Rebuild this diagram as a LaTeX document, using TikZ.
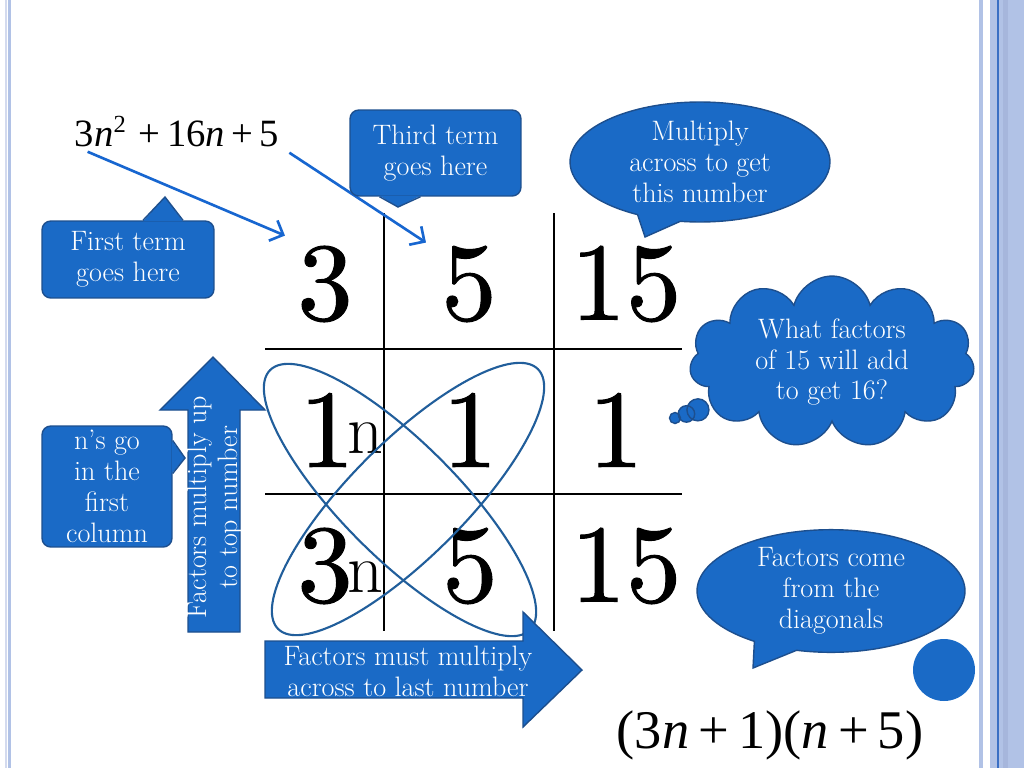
\documentclass[tikz,border=0pt]{standalone}
\usepackage{fontspec}
\newfontfamily\eqfont{Liberation Serif}
\newfontfamily\gridfont{lmroman10-regular.otf}[FakeBold=0.9]
\usetikzlibrary{arrows.meta, shapes.callouts, shapes.symbols, shapes.geometric}
\definecolor{calloutblue}{HTML}{1A6AC6}
\definecolor{edgeblue}{HTML}{1D4F8E}
\definecolor{arrowblue}{HTML}{1766D0}
\definecolor{loopblue}{HTML}{215E9B}
\definecolor{bandlav}{HTML}{B1C2E6}
\definecolor{darklav}{HTML}{A6B6DC}
\definecolor{palelav}{HTML}{D3DAEE}
\definecolor{lineblue}{HTML}{3A6FC4}

\begin{document}
\begin{tikzpicture}[x=0.02cm, y=-0.02cm,
  >={Straight Barb[length=2.2mm, width=4.4mm]},
  note/.style={
    fill=calloutblue, draw=edgeblue, line width=0.8pt, text=white,
    font=\fontsize{16}{17.6}\selectfont, align=center, inner sep=0pt
  },
  box/.style={note, rectangle, rounded corners=5pt},
  tipfill/.style={fill=calloutblue},
  tipedge/.style={draw=edgeblue, line width=0.8pt, line join=miter},
  bubble/.style={note, ellipse callout, callout pointer arc=20},
  digit/.style={font=\gridfont\fontsize{63}{63}\selectfont, inner sep=0pt},
  power/.style={font=\fontsize{40}{40}\selectfont, inner sep=0pt},
  gridline/.style={line width=1.6pt},
  loop/.style={
    draw=loopblue, line width=1.2pt, ellipse, inner sep=0pt,
    minimum width=7.35cm, minimum height=2.3cm
  },
  pointer/.style={->, arrowblue, line width=1.5pt},
  blockarrow/.style={fill=calloutblue, draw=edgeblue, line width=0.8pt},
  arrowtext/.style={text=white, font=\fontsize{16}{17.6}\selectfont, align=center, inner sep=0pt},
]

% Page and side bands
\useasboundingbox (0,0) rectangle (1024,768);
\fill[white] (0,0) rectangle (1024,768);
\fill[palelav] (4.5,0) rectangle (6.5,768);
\fill[bandlav] (8,0) rectangle (11,768);
\fill[bandlav] (979,0) rectangle (983,768);
\fill[bandlav] (990,0) rectangle (1024,768);
\fill[darklav] (1003,0) rectangle (1008,768);
\draw[lineblue, line width=0.6pt] (998,0) -- (998,768);

% Quadratic
\node[anchor=base, inner sep=0pt, font=\eqfont\fontsize{22}{22}\selectfont]
  (quad) at (177,146) {3\textit{n}{\fontsize{14}{14}\selectfont\raisebox{0.55em}{2}}\,\,+\,16\textit{n}\,+\,5};

% Grid
\draw[gridline] (384,213) -- (384,631);
\draw[gridline] (554,213) -- (554,631);
\draw[gridline] (265,349) -- (682,349);
\draw[gridline] (265,494) -- (682,494);

\node[digit] (c11) at (325,284) {3};
\node[digit] (c12) at (469,284) {5};
\node[digit] (c13) at (626,284) {15};
\node[digit] (c21) at (327,430) {1};
\node[digit] (c22) at (470,430) {1};
\node[digit] (c23) at (616,430) {1};
\node[digit] (c31) at (325,566) {3};
\node[digit] (c32) at (470,566) {5};
\node[digit] (c33) at (626,566) {15};
\node[power] (n21) at (365,438) {n};
\node[power] (n31) at (365,577) {n};

% Diagonal loops
\node[loop, rotate=-45] (loopA) at (400,500) {};
\node[loop, rotate=45] (loopB) at (408,499) {};

% Pointers from the quadratic
\draw[pointer] ([shift={(13,5)}]quad.south west) -- ([shift={(-12,-10)}]c11.north west);
\draw[pointer] ([shift={(10,6)}]quad.south east) -- ([shift={(-15,-3)}]c12.north west);

% Rounded callouts with pointed tips
\node[box, minimum width=3.42cm, minimum height=1.72cm]
  (third) at (435.5,153) {Third term\\goes here};
\coordinate (thirdtip) at (398,207);
\fill[tipfill] ([shift={(-56,-1)}]third.south) -- (thirdtip) -- ([shift={(-15,-1)}]third.south) -- cycle;
\draw[tipedge] ([shift={(-56,0)}]third.south) -- (thirdtip) -- ([shift={(-15,0)}]third.south);

\node[box, minimum width=3.44cm, minimum height=1.54cm]
  (first) at (128,259.5) {First term\\goes here};
\coordinate (firsttip) at (165,197);
\fill[tipfill] ([shift={(15,1)}]first.north) -- (firsttip) -- ([shift={(55,1)}]first.north) -- cycle;
\draw[tipedge] ([shift={(15,0)}]first.north) -- (firsttip) -- ([shift={(55,0)}]first.north);

\node[box, minimum width=2.6cm, minimum height=2.42cm]
  (nsgo) at (107,486.5) {n’s go\\in the\\first\\column};
\coordinate (nsgotip) at (185,458);
\fill[tipfill] ([shift={(-1,-46)}]nsgo.east) -- (nsgotip) -- ([shift={(-1,-13)}]nsgo.east) -- cycle;
\draw[tipedge] ([shift={(0,-46)}]nsgo.east) -- (nsgotip) -- ([shift={(0,-13)}]nsgo.east);

% Speech bubbles and thought cloud
\node[bubble, minimum width=5.2cm, minimum height=2.4cm,
      callout absolute pointer={(645,237)}]
  (multiply) at (700,162) {Multiply\\across to get\\this number};
\node[bubble, minimum width=5.36cm, minimum height=2.16cm,
      callout absolute pointer={(753,668)}]
  (diagonals) at (831,591) {Factors come\\from the\\diagonals};
\node[note, cloud callout, cloud puffs=11, aspect=2,
      minimum width=5.7cm, minimum height=2.9cm,
      callout absolute pointer={(675,418)}, callout pointer segments=3,
      callout pointer start size=0.55cm, callout pointer end size=0.22cm]
  (think) at (832,362) {What factors\\of 15 will add\\to get 16?};

% Block arrows
\filldraw[blockarrow] (188,632) -- (188,410) -- (160,410) -- (213,357)
  -- (265,410) -- (240,410) -- (240,632) -- cycle;
\node[arrowtext, rotate=90] (uptext) at (215,507) {Factors multiply up\\to top number};
\filldraw[blockarrow] (265,641) -- (523,641) -- (523,612) -- (582,670)
  -- (523,727) -- (523,698) -- (265,698) -- cycle;
\node[arrowtext] (acrosstext) at (408,671) {Factors must multiply\\across to last number};

% Dot and factored form
\node[circle, fill=calloutblue, minimum size=1.24cm, inner sep=0pt] (dot) at (944,670) {};
\node[anchor=base, inner sep=0pt, font=\eqfont\fontsize{31}{31}\selectfont]
  (answer) at (770,748) {(3\textit{n}\,+\,1)(\textit{n}\,+\,5)};

\end{tikzpicture}
\end{document}
